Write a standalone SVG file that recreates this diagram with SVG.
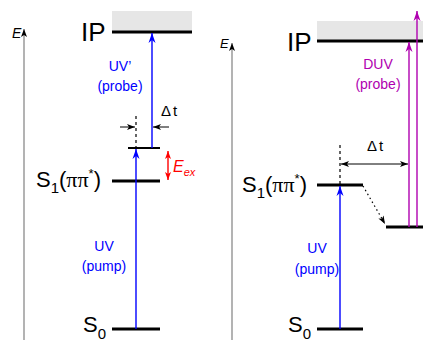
<svg xmlns="http://www.w3.org/2000/svg" width="423" height="340" viewBox="0 0 423 340">
<style>
text{font-family:"Liberation Sans",Arial,sans-serif}
.lvl{stroke:#000;stroke-width:3;fill:none}
.band{fill:#e6e6e6}
.axis{stroke:#808080;stroke-width:1.2;fill:none}
.blue{stroke:#0000ff;stroke-width:1.4;fill:none}
.mag{stroke:#b000b0;stroke-width:1.4;fill:none}
.red{stroke:#ff0000;stroke-width:1.4;fill:none}
.blk{stroke:#000;stroke-width:1;fill:none}
.dash{stroke:#000;stroke-width:1.2;stroke-dasharray:3,3;fill:none}
.dot{stroke:#000;stroke-width:1.2;stroke-dasharray:1.5,3;fill:none}
.big{font-size:26px}
.st{font-size:22px}
.lab{font-size:14px}
.ser{font-family:"Liberation Serif","Times New Roman",serif}
</style>
<defs>
<marker id="mg" viewBox="-10 -5 10 10" refX="0" refY="0" markerWidth="10" markerHeight="10" markerUnits="userSpaceOnUse" orient="auto"><path d="M0,0 L-8,-3 L-6,0 L-8,3Z" fill="#000"/></marker>
<marker id="mb" viewBox="-10 -5 10 10" refX="0" refY="0" markerWidth="10" markerHeight="10" markerUnits="userSpaceOnUse" orient="auto"><path d="M0,0 L-10,-3.5 L-7,0 L-10,3.5Z" fill="#0000ff"/></marker>
<marker id="mm" viewBox="-10 -5 10 10" refX="0" refY="0" markerWidth="10" markerHeight="10" markerUnits="userSpaceOnUse" orient="auto"><path d="M0,0 L-10,-3.5 L-7,0 L-10,3.5Z" fill="#b000b0"/></marker>
<marker id="mr" viewBox="-10 -5 10 10" refX="0" refY="0" markerWidth="10" markerHeight="10" markerUnits="userSpaceOnUse" orient="auto-start-reverse"><path d="M0,0 L-8,-3 L-6,0 L-8,3Z" fill="#ff0000"/></marker>
<marker id="mk" viewBox="-10 -5 10 10" refX="0" refY="0" markerWidth="10" markerHeight="10" markerUnits="userSpaceOnUse" orient="auto-start-reverse"><path d="M0,0 L-8,-3 L-6,0 L-8,3Z" fill="#000"/></marker>
</defs>

<g id="left-axis">
<line class="axis" x1="24" y1="340" x2="24" y2="29" marker-end="url(#mg)"/>
<text x="12" y="38" font-size="14" font-style="italic">E</text>
</g>
<g id="left-IP">
<rect class="band" x="112" y="11" width="80" height="20"/>
<line class="lvl" x1="112" y1="32" x2="192" y2="32"/>
<text class="big" x="81" y="41">IP</text>
</g>
<g id="left-S1">
<line class="lvl" x1="112" y1="181" x2="160" y2="181"/>
<text class="st" x="36" y="187">S<tspan font-size="15" dy="6">1</tspan><tspan dy="-6">(</tspan><tspan class="ser">ππ</tspan><tspan font-size="13" dy="-9">*</tspan><tspan dy="9">)</tspan></text>
</g>
<g id="left-vib">
<line stroke="#000" stroke-width="2" x1="128" y1="148" x2="160" y2="148"/>
</g>
<g id="left-S0">
<line class="lvl" x1="112" y1="329" x2="160" y2="329"/>
<text class="st" x="83" y="332">S<tspan font-size="15" dy="7">0</tspan></text>
</g>

<g id="right-axis">
<line class="axis" x1="232" y1="340" x2="232" y2="43" marker-end="url(#mg)"/>
<text x="220" y="48" font-size="13" font-style="italic">E</text>
</g>
<g id="right-IP">
<rect class="band" x="317" y="21" width="106" height="19"/>
<line class="lvl" x1="317" y1="41" x2="423" y2="41"/>
<text class="big" x="287" y="51">IP</text>
</g>
<g id="right-S1">
<line class="lvl" x1="317" y1="185" x2="363" y2="185"/>
<text class="st" x="242" y="192">S<tspan font-size="15" dy="6">1</tspan><tspan dy="-6">(</tspan><tspan class="ser">ππ</tspan><tspan font-size="13" dy="-9">*</tspan><tspan dy="9">)</tspan></text>
</g>
<g id="right-low">
<line class="lvl" x1="386" y1="227" x2="423" y2="227"/>
</g>
<g id="right-S0">
<line class="lvl" x1="317" y1="329" x2="363" y2="329"/>
<text class="st" x="288" y="332">S<tspan font-size="15" dy="7">0</tspan></text>
</g>

<g id="connectors">
<line class="blue" x1="136" y1="329" x2="136" y2="149" marker-end="url(#mb)"/>
<line class="blue" x1="152" y1="148" x2="152" y2="33" marker-end="url(#mb)"/>
<line class="dash" x1="136" y1="116" x2="136" y2="147"/>
<line class="blk" x1="120" y1="127" x2="135" y2="127" marker-end="url(#mk)"/>
<line class="blk" x1="169" y1="127" x2="153" y2="127" marker-end="url(#mk)"/>
<line class="red" x1="168" y1="151" x2="168" y2="180" marker-start="url(#mr)" marker-end="url(#mr)"/>

<line class="blue" x1="340" y1="329" x2="340" y2="186" marker-end="url(#mb)"/>
<line class="dash" x1="340" y1="145" x2="340" y2="184"/>
<line class="blk" x1="341" y1="164" x2="408" y2="164" marker-start="url(#mk)" marker-end="url(#mk)"/>
<line class="dot" x1="363" y1="186" x2="385" y2="224" marker-end="url(#mk)"/>
<line class="mag" x1="409" y1="227" x2="409" y2="42" marker-end="url(#mm)"/>
<line class="mag" x1="417" y1="227" x2="417" y2="11" marker-end="url(#mm)"/>
</g>

<g id="labels">
<text class="lab" x="120" y="71" text-anchor="middle" fill="#0000ff">UV’</text>
<text class="lab" x="120" y="91" text-anchor="middle" fill="#0000ff">(probe)</text>
<text x="161" y="116" font-size="15">Δ<tspan dx="2">t</tspan></text>
<text x="173" y="172" font-size="16" font-style="italic" fill="#ff0000">E<tspan font-size="11" dy="4">ex</tspan></text>
<text class="lab" x="104" y="251" text-anchor="middle" fill="#0000ff">UV</text>
<text class="lab" x="104" y="271" text-anchor="middle" fill="#0000ff">(pump)</text>

<text class="lab" x="378" y="69" text-anchor="middle" fill="#b000b0">DUV</text>
<text class="lab" x="378" y="89" text-anchor="middle" fill="#b000b0">(probe)</text>
<text x="367" y="151" font-size="15">Δ<tspan dx="2">t</tspan></text>
<text class="lab" x="317" y="253" text-anchor="middle" fill="#0000ff">UV</text>
<text class="lab" x="317" y="274" text-anchor="middle" fill="#0000ff">(pump)</text>
</g>
</svg>
